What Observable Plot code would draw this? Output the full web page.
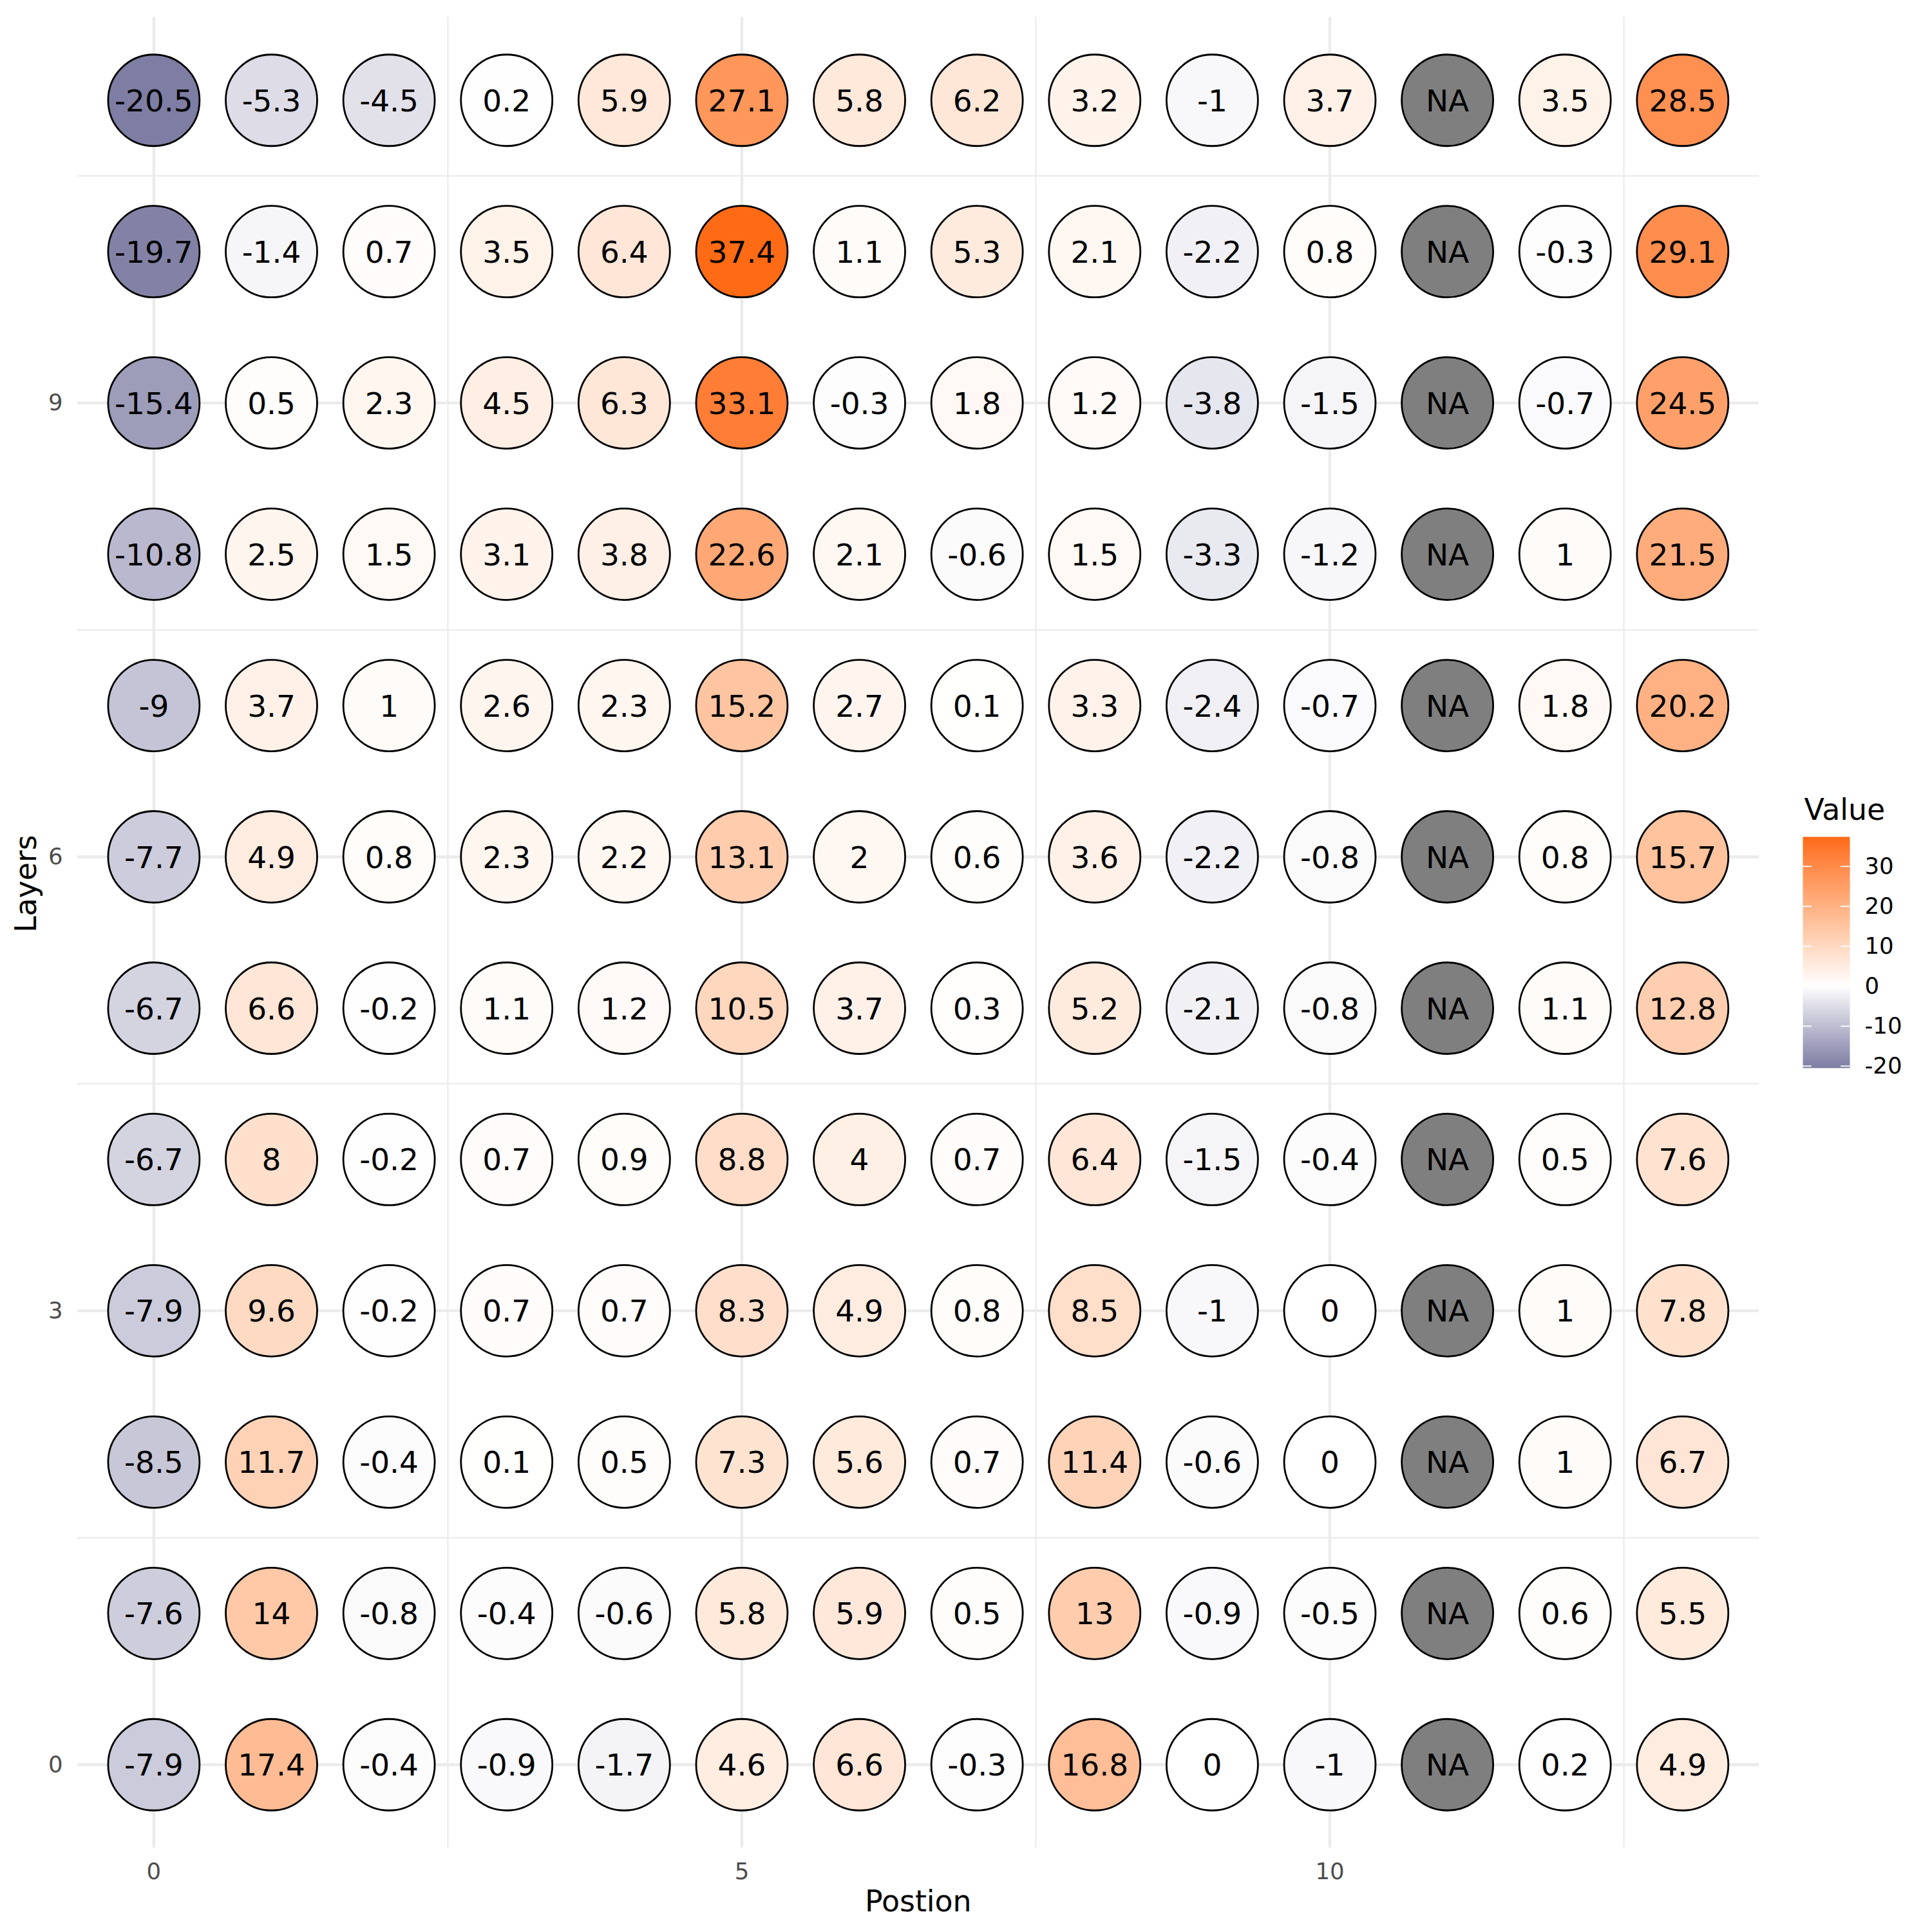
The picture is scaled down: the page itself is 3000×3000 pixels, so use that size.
<!DOCTYPE html>
<html>
<head>
<meta charset="utf-8">
<script src="https://cdn.jsdelivr.net/npm/d3@7"></script>
<script src="https://cdn.jsdelivr.net/npm/@observablehq/plot@0.6"></script>
<style>
  html, body { margin: 0; padding: 0; background: #ffffff; overflow: hidden; }
  #wrap { position: relative; width: 3000px; height: 3000px; background: #ffffff; }
  #legend { position: absolute; left: 2760px; top: 1200px; }
  #main { position: absolute; left: 0; top: 0; }
</style>
</head>
<body>
<div id="wrap"><div id="main"></div><div id="legend"></div></div>
<script>
// ---- Data ----
const positions = [0, 1, 2, 3, 4, 5, 6, 7, 8, 9, 10, 11, 12, 13];
const layers = [0, 1, 2, 3, 4, 5, 6, 7, 8, 9, 10, 11];
const NA = null;
const layer0  = [-7.9, 17.4, -0.4, -0.9, -1.7, 4.6, 6.6, -0.3, 16.8, 0, -1, NA, 0.2, 4.9];
const layer1  = [-7.6, 14, -0.8, -0.4, -0.6, 5.8, 5.9, 0.5, 13, -0.9, -0.5, NA, 0.6, 5.5];
const layer2  = [-8.5, 11.7, -0.4, 0.1, 0.5, 7.3, 5.6, 0.7, 11.4, -0.6, 0, NA, 1, 6.7];
const layer3  = [-7.9, 9.6, -0.2, 0.7, 0.7, 8.3, 4.9, 0.8, 8.5, -1, 0, NA, 1, 7.8];
const layer4  = [-6.7, 8, -0.2, 0.7, 0.9, 8.8, 4, 0.7, 6.4, -1.5, -0.4, NA, 0.5, 7.6];
const layer5  = [-6.7, 6.6, -0.2, 1.1, 1.2, 10.5, 3.7, 0.3, 5.2, -2.1, -0.8, NA, 1.1, 12.8];
const layer6  = [-7.7, 4.9, 0.8, 2.3, 2.2, 13.1, 2, 0.6, 3.6, -2.2, -0.8, NA, 0.8, 15.7];
const layer7  = [-9, 3.7, 1, 2.6, 2.3, 15.2, 2.7, 0.1, 3.3, -2.4, -0.7, NA, 1.8, 20.2];
const layer8  = [-10.8, 2.5, 1.5, 3.1, 3.8, 22.6, 2.1, -0.6, 1.5, -3.3, -1.2, NA, 1, 21.5];
const layer9  = [-15.4, 0.5, 2.3, 4.5, 6.3, 33.1, -0.3, 1.8, 1.2, -3.8, -1.5, NA, -0.7, 24.5];
const layer10 = [-19.7, -1.4, 0.7, 3.5, 6.4, 37.4, 1.1, 5.3, 2.1, -2.2, 0.8, NA, -0.3, 29.1];
const layer11 = [-20.5, -5.3, -4.5, 0.2, 5.9, 27.1, 5.8, 6.2, 3.2, -1, 3.7, NA, 3.5, 28.5];
const valuesByLayer = [layer0, layer1, layer2, layer3, layer4, layer5, layer6, layer7, layer8, layer9, layer10, layer11];

const xBreaks = [0, 5, 10];
const xMinorBreaks = [2.5, 7.5, 12.5];
const yBreaks = [0, 3, 6, 9];
const yMinorBreaks = [1.5, 4.5, 7.5, 10.5];
const legendBreaks = [-20, -10, 0, 10, 20, 30];

// ---- Build table ----
const cells = layers.flatMap((layer, i) =>
  positions.map((pos, j) => ({pos, layer, value: valuesByLayer[i][j]}))
);
const valid = cells.filter(d => d.value != null);
const missing = cells.filter(d => d.value == null);
const [vmin, vmax] = d3.extent(valid, d => d.value);

const expand = ([a, b]) => { const p = 0.05 * (b - a); return [a - p, b + p]; };
const xDomain = expand(d3.extent(positions));
const yDomain = expand(d3.extent(layers));

const colorOpts = {
  type: "linear",
  domain: [vmin, 0, vmax],
  range: ["#7E7DA3", "#FFFFFF", "#FF6A14"],
  interpolate: "lab"
};

const FONT = "DejaVu Sans, Verdana, sans-serif";
const gridColor = "#EBEBEB";
const fmt = d => String(d);

const main = Plot.plot({
  width: 3000,
  height: 3000,
  marginLeft: 119.7,
  marginRight: 269,
  marginTop: 26,
  marginBottom: 131,
  x: {domain: xDomain},
  y: {domain: yDomain},
  color: colorOpts,
  style: {fontFamily: FONT, background: "#ffffff", overflow: "visible"},
  marks: [
    Plot.gridX(xMinorBreaks, {stroke: gridColor, strokeOpacity: 1, strokeWidth: 2.2}),
    Plot.gridY(yMinorBreaks, {stroke: gridColor, strokeOpacity: 1, strokeWidth: 2.2}),
    Plot.gridX(xBreaks, {stroke: gridColor, strokeOpacity: 1, strokeWidth: 4.4}),
    Plot.gridY(yBreaks, {stroke: gridColor, strokeOpacity: 1, strokeWidth: 4.4}),
    Plot.axisX(xBreaks, {tickSize: 0, tickPadding: 23, fontSize: 35.5, color: "#4D4D4D", label: null, tickFormat: fmt}),
    Plot.axisY(yBreaks, {tickSize: 0, tickPadding: 22.7, fontSize: 35.5, color: "#4D4D4D", label: null, tickFormat: fmt}),
    Plot.dot(valid, {x: "pos", y: "layer", r: 71, fill: "value", stroke: "#000000", strokeWidth: 2.8}),
    Plot.dot(missing, {x: "pos", y: "layer", r: 71, fill: "#7F7F7F", stroke: "#000000", strokeWidth: 2.8}),
    Plot.text(cells, {
      x: "pos", y: "layer",
      text: d => d.value == null ? "NA" : String(d.value),
      fontSize: 47, fill: "#000000", dy: 2
    }),
    Plot.text(["Postion"], {text: d => d, frameAnchor: "bottom", lineAnchor: "bottom", dy: 98, fontSize: 45.8, fill: "#000000"}),
    Plot.text(["Layers"], {text: d => d, frameAnchor: "left", rotate: -90, lineAnchor: "top", dx: -96.7, fontSize: 45.8, fill: "#000000"})
  ]
});
document.getElementById("main").appendChild(main);

const legend = Plot.plot({
  width: 240,
  height: 500,
  marginLeft: 39,
  marginRight: 128,
  marginTop: 99,
  marginBottom: 42,
  x: {domain: [0, 1], axis: null},
  y: {domain: [vmin, vmax], axis: null},
  color: colorOpts,
  style: {fontFamily: FONT, background: "transparent", overflow: "visible"},
  marks: [
    Plot.raster({fill: (x, y) => y, x1: 0, x2: 1, y1: vmin, y2: vmax, width: 1, height: 360, imageRendering: "auto"}),
    Plot.ruleY(legendBreaks, {x1: 0, x2: 0.19, stroke: "#ffffff", strokeWidth: 1.8}),
    Plot.ruleY(legendBreaks, {x1: 0.81, x2: 1, stroke: "#ffffff", strokeWidth: 1.8}),
    Plot.axisY(legendBreaks, {anchor: "right", tickSize: 0, tickPadding: 23, fontSize: 35.5, color: "#000000", label: null, tickFormat: fmt}),
    Plot.text(["Value"], {text: d => d, frameAnchor: "top-left", textAnchor: "start", lineAnchor: "bottom", dx: 2, dy: -27, fontSize: 45.8, fill: "#000000"})
  ]
});
document.getElementById("legend").appendChild(legend);
</script>
</body>
</html>
